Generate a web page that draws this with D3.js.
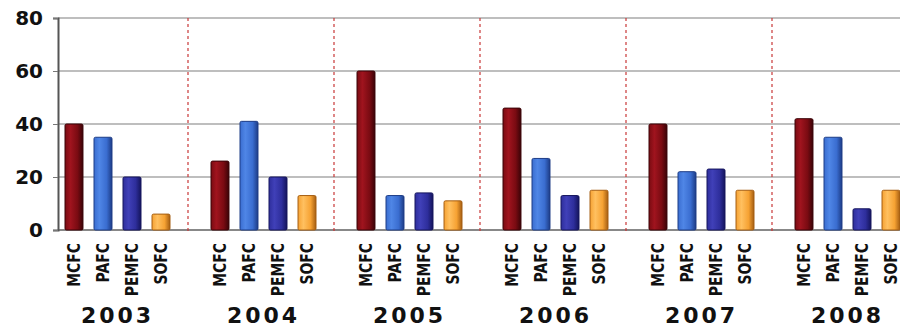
<!DOCTYPE html>
<html>
<head>
<meta charset="utf-8">
<script src="https://cdn.jsdelivr.net/npm/d3@7"></script>
<style>
body{margin:0;background:#fff;}
svg{display:block;}
.tick-lbl{font-family:"DejaVu Sans",sans-serif;font-weight:bold;font-size:20px;fill:#111;}
.cat-lbl{font-family:"DejaVu Sans",sans-serif;font-weight:bold;font-size:17px;fill:#111;}
.year-lbl{font-family:"DejaVu Sans",sans-serif;font-weight:bold;font-size:22px;fill:#111;letter-spacing:3px;}
</style>
</head>
<body>
<div id="chart"></div>
<script>
const years=['2003','2004','2005','2006','2007','2008'];
const types=['MCFC','PAFC','PEMFC','SOFC'];
const mcfc=[40,26,60,46,40,42];
const pafc=[35,41,13,27,22,35];
const pemfc=[20,20,14,13,23,8];
const sofc=[6,13,11,15,15,15];
const yTicks=[0,20,40,60,80];

const series={MCFC:mcfc,PAFC:pafc,PEMFC:pemfc,SOFC:sofc};
const colors={
  MCFC:['#a0141e','#7a0b12','#3a0307'],
  PAFC:['#4f86e6','#3a6dd0','#1d3c86'],
  PEMFC:['#4040b8','#2e2e9c','#14145c'],
  SOFC:['#ffc060','#f6a233','#a55e12']
};

const W=900,H=329;
const svg=d3.select('#chart').append('svg').attr('width',W).attr('height',H);

const defs=svg.append('defs');
types.forEach((t,i)=>{
  const gr=defs.append('linearGradient').attr('id','g'+i).attr('x1','0').attr('x2','1').attr('y1','0').attr('y2','0');
  gr.append('stop').attr('offset','0%').attr('stop-color',colors[t][1]);
  gr.append('stop').attr('offset','30%').attr('stop-color',colors[t][0]);
  gr.append('stop').attr('offset','70%').attr('stop-color',colors[t][1]);
  gr.append('stop').attr('offset','100%').attr('stop-color',colors[t][2]);
});

const y=d3.scaleLinear().domain([0,80]).range([230,18]);
const x0=d3.scaleBand().domain(years).range([42,42+146*6]).padding(0);
const x1=d3.scaleBand().domain(types).range([23,128]).paddingInner(0.38).paddingOuter(0);

const axisX=58;

// gridlines
svg.append('g').selectAll('line').data(yTicks).enter().append('line')
  .attr('x1',axisX).attr('x2',W)
  .attr('y1',d=>y(d)).attr('y2',d=>y(d))
  .attr('stroke',d=>d===0?'#888':'#a8a8a8').attr('stroke-width',d=>d===0?2:1.5);

// year dividers
svg.append('g').selectAll('line').data(years.slice(0,-1)).enter().append('line')
  .attr('x1',d=>x0(d)+x0.bandwidth()).attr('x2',d=>x0(d)+x0.bandwidth())
  .attr('y1',y(80)).attr('y2',y(0)+3)
  .attr('stroke','#c83838').attr('stroke-width',1.2).attr('stroke-dasharray','3,3');

// y axis
const yAxis=svg.append('g').attr('transform',`translate(${axisX},0)`)
  .call(d3.axisLeft(y).tickValues(yTicks).tickSize(5).tickPadding(10));
yAxis.select('.domain').attr('stroke','#555').attr('stroke-width',2);
yAxis.selectAll('.tick line').attr('stroke','#777');
yAxis.selectAll('.tick text').attr('class','tick-lbl').attr('font-size',null).attr('font-family',null).attr('fill',null);

// bars
const groups=svg.append('g').selectAll('g').data(years).enter().append('g')
  .attr('transform',d=>`translate(${x0(d)},0)`);

groups.selectAll('rect').data((yr,i)=>types.map(t=>({t,v:series[t][i]}))).enter().append('rect')
  .attr('x',d=>x1(d.t)).attr('width',x1.bandwidth())
  .attr('y',d=>y(d.v)).attr('height',d=>y(0)-y(d.v))
  .attr('rx',1.5)
  .attr('fill',d=>`url(#g${types.indexOf(d.t)})`)
  .attr('stroke',d=>colors[d.t][2]).attr('stroke-width',1);

// category labels
groups.selectAll('text.cat-lbl').data(types).enter().append('text')
  .attr('class','cat-lbl')
  .attr('text-anchor','end')
  .attr('dy','0.35em')
  .attr('transform',d=>`translate(${x1(d)+x1.bandwidth()/2},243) rotate(-90) scale(0.82,1)`)
  .text(d=>d);

// year labels
groups.append('text').attr('class','year-lbl')
  .attr('x',(x1('MCFC')+x1('SOFC')+x1.bandwidth())/2)
  .attr('y',323)
  .attr('text-anchor','middle')
  .text(d=>d);
</script>
</body>
</html>
